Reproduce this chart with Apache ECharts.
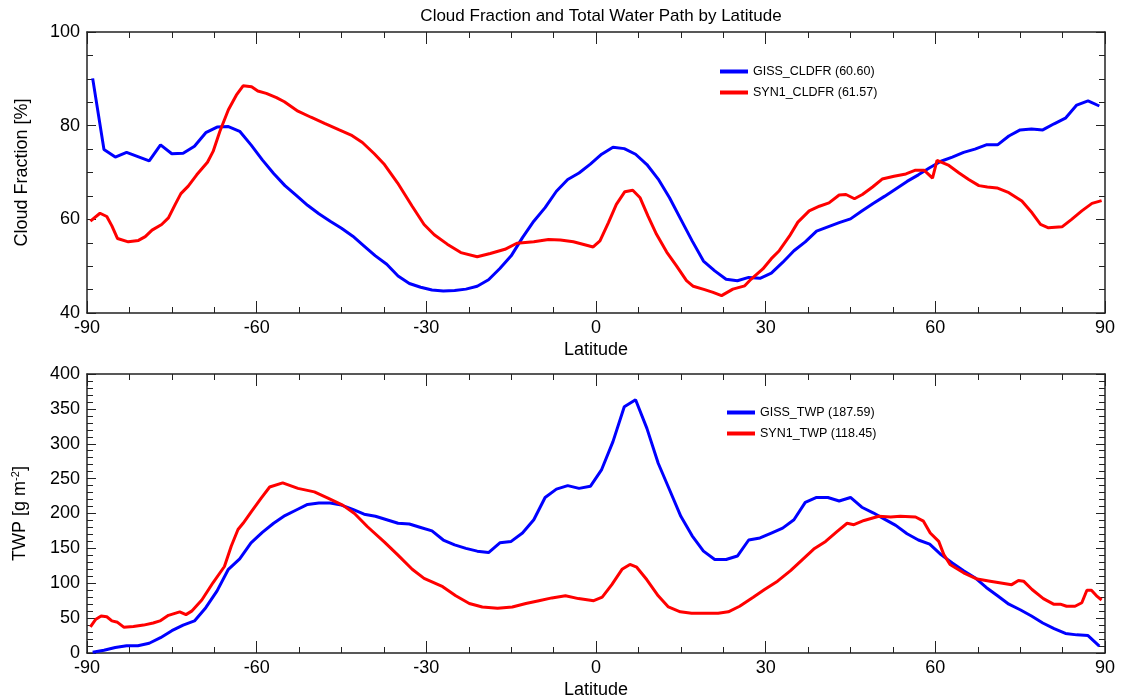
<!DOCTYPE html>
<html>
<head>
<meta charset="utf-8">
<script src="https://cdn.jsdelivr.net/npm/echarts@6/dist/echarts.min.js"></script>
<style>html,body{margin:0;padding:0;background:#fff}#c{width:1127px;height:700px}</style>
</head>
<body>
<div id="c"></div>
<script>
// ---- Data ----
const xTicks = [-90, -60, -30, 0, 30, 60, 90];

const latGrid = [-89,-87,-85,-83,-81,-79,-77,-75,-73,-71,-69,-67,-65,-63,-61,-59,-57,-55,-53,-51,
  -49,-47,-45,-43,-41,-39,-37,-35,-33,-31,-29,-27,-25,-23,-21,-19,-17,-15,-13,-11,
  -9,-7,-5,-3,-1,1,3,5,7,9,11,13,15,17,19,21,23,25,27,29,
  31,33,35,37,39,41,43,45,47,49,51,53,55,57,59,61,63,65,67,69,
  71,73,75,77,79,81,83,85,87,89];

const gissCldfr = [90.1,74.9,73.3,74.3,73.4,72.5,75.9,74.0,74.1,75.6,78.5,79.7,79.8,78.8,75.9,72.7,69.8,67.2,65.1,63.0,
  61.2,59.6,58.1,56.4,54.3,52.2,50.4,47.9,46.3,45.5,44.9,44.7,44.8,45.1,45.7,47.1,49.5,52.2,56.1,59.6,
  62.5,66.0,68.5,69.9,71.8,73.9,75.4,75.1,73.9,71.7,68.6,64.6,60.0,55.4,51.1,49.0,47.2,46.9,47.6,47.4,
  48.5,50.8,53.3,55.2,57.5,58.4,59.3,60.1,61.8,63.4,64.9,66.5,68.1,69.5,71.0,72.4,73.3,74.3,75.0,75.9,
  75.9,77.8,79.1,79.3,79.1,80.4,81.6,84.4,85.3,84.2];

const synCldfrLat = [-89.4,-87.7,-86.5,-85.6,-84.6,-82.7,-80.9,-79.7,-78.5,-76.8,-75.6,-74.4,-73.4,-72.1,-70.6,-68.7,-67.7,-66.5,-65.0,-63.6,
  -62.4,-60.9,-59.8,-58.3,-56.5,-55.1,-52.7,-50.4,-48.0,-45.4,-43.3,-41.3,-39.2,-37.4,-35.1,-32.5,-30.4,-28.6,-26.3,-23.9,
  -21.0,-18.7,-16.1,-14.0,-11.0,-8.4,-6.3,-4.0,-0.5,0.7,2.2,3.6,5.1,6.5,7.8,9.2,10.7,12.5,14.2,16.0,
  17.2,19.2,20.7,22.2,24.2,26.3,27.4,29.5,31.0,32.4,34.2,35.7,37.7,39.5,41.2,43.0,44.2,45.7,47.1,48.9,
  50.6,52.7,54.8,56.5,58.0,59.5,60.3,62.4,64.2,65.9,67.7,69.2,70.9,73.0,75.3,77.1,78.6,80.0,82.4,84.1,
  85.9,87.7,89.4];
const synCldfr = [59.6,61.3,60.6,58.6,55.9,55.2,55.5,56.3,57.7,58.9,60.3,63.2,65.5,67.1,69.5,72.2,74.5,78.8,83.4,86.5,
  88.5,88.3,87.4,86.9,86.0,85.1,83.1,81.8,80.5,79.1,78.0,76.4,74.0,71.7,67.8,62.8,58.9,56.7,54.7,52.9,
  52.0,52.7,53.6,54.9,55.2,55.7,55.6,55.2,54.1,55.4,59.3,63.2,65.9,66.2,64.6,60.7,56.8,53.0,50.1,46.9,
  45.7,45.0,44.4,43.7,45.1,45.8,47.2,49.4,51.6,53.3,56.4,59.4,61.8,62.8,63.5,65.2,65.3,64.4,65.3,66.9,
  68.6,69.2,69.7,70.5,70.5,68.8,72.6,71.5,69.9,68.5,67.2,66.9,66.7,65.7,63.9,61.4,58.9,58.2,58.4,60.0,
  61.8,63.4,64.0];

const gissTwp = [1,4,8,10.5,10.5,14,22,32,40,46,65,89,120,135,158,173,186,197,205,213,
  215,215,212,206,199,196,191,186,185,180,175,162,155,150,146,144,158,160,172,191,
  223,235,240,236,239,263,303,353,363,322,272,234,196,168,146,134,134,139,162,165,
  172,179,191,216,223,223,218,223,209,201,192,183,171,162,156,141,129,118,108,94,
  82,70,62,53,43,35,28,26,25,10];

const synTwpLat = [-89.4,-88.5,-87.5,-86.5,-85.6,-84.6,-83.5,-81.8,-80.0,-78.3,-77.1,-75.6,-73.6,-72.5,-71.5,-69.7,-67.7,-65.7,-64.5,-63.3,
  -62.4,-60.9,-59.2,-57.7,-55.4,-52.7,-49.8,-47.4,-44.8,-42.7,-40.4,-37.4,-35.1,-32.5,-30.4,-27.1,-24.8,-22.4,-20.1,-17.4,
  -14.8,-12.4,-10.1,-7.8,-5.4,-3.1,-0.4,1.1,2.8,4.6,6.0,7.2,9.0,11.0,12.8,14.9,16.9,19.3,21.6,23.4,
  25.4,27.8,29.8,32.1,34.4,36.5,38.5,40.6,42.6,44.4,45.6,47.4,50.0,52.1,53.8,56.5,57.9,59.1,60.6,61.5,
  62.6,65.0,67.4,69.7,73.5,74.7,75.6,77.1,79.1,80.9,82.1,83.2,84.7,85.9,86.8,87.6,88.5,89.4];
const synTwp = [37.5,48,53,52,46,44,37,38,40,43,46,54,59,55,60,76,101,124,153,177,
  186,203,222,238,244,236,231,222,212,200,181,159,141,120,107,95,82,71,66,64,
  66,71,75,79,82,78,75,80,98,120,127,123,105,82,66,59,57,57,57,59,
  67,80,91,103,118,134,149,160,174,186,184,190,196,195,196,195,189,172,160,141,
  127,115,106,103,98,104,103,91,78,70,70,67,67,72,90,90,82,76];

const seriesNames = ['GISS_CLDFR (60.60)', 'SYN1_CLDFR (61.57)', 'GISS_TWP (187.59)', 'SYN1_TWP (118.45)'];

// ---- Chart ----
const zip = (xs, ys) => xs.map((x, i) => [x, ys[i]]);
const FONT = "'Liberation Sans', Arial, Helvetica, sans-serif";
const AX = '#222';

function xAxes(gi) {
  const base = {
    type: 'value', gridIndex: gi, min: -90, max: 90, interval: 30,
    axisLine: { show: true, onZero: false, lineStyle: { color: AX, width: 1.5 } },
    axisTick: { show: true, inside: true, length: 12, lineStyle: { color: AX, width: 1 } },
    minorTick: { show: true, splitNumber: 4, length: 6, lineStyle: { color: AX, width: 1 } },
    splitLine: { show: false }
  };
  return [
    Object.assign({}, base, {
      position: 'bottom', name: 'Latitude', nameLocation: 'middle', nameGap: 28,
      nameTextStyle: { fontFamily: FONT, fontSize: 18, color: '#000' },
      axisLabel: { show: true, fontFamily: FONT, fontSize: 18, color: '#000', margin: 6,
        customValues: xTicks }
    }),
    Object.assign({}, base, { position: 'top', axisLabel: { show: false } })
  ];
}

function yAxes(gi, min, max, interval, minorSplit, name, rich) {
  const base = {
    type: 'value', gridIndex: gi, min: min, max: max, interval: interval,
    axisLine: { show: true, onZero: false, lineStyle: { color: AX, width: 1.5 } },
    axisTick: { show: true, inside: true, length: 9, lineStyle: { color: AX, width: 1 } },
    minorTick: { show: true, splitNumber: minorSplit, length: 6, lineStyle: { color: AX, width: 1 } },
    splitLine: { show: false }
  };
  return [
    Object.assign({}, base, {
      position: 'left', name: name, nameLocation: 'middle', nameGap: 56,
      nameTextStyle: Object.assign({ fontFamily: FONT, fontSize: 18, color: '#000' }, rich ? { rich: rich } : {}),
      axisLabel: { show: true, fontFamily: FONT, fontSize: 18, color: '#000', margin: 7 }
    }),
    Object.assign({}, base, { position: 'right', axisLabel: { show: false } })
  ];
}

const lineSeries = (name, xi, yi, data, color) => ({
  name: name, type: 'line', xAxisIndex: xi, yAxisIndex: yi, data: data,
  showSymbol: false, symbol: 'none', smooth: false, animation: false,
  lineStyle: { color: color, width: 3 }, itemStyle: { color: color }
});

const legendBase = {
  orient: 'vertical', icon: 'rect', itemWidth: 28, itemHeight: 4, itemGap: 8,
  textStyle: { fontFamily: FONT, fontSize: 12.5, color: '#000' }
};

const option = {
  backgroundColor: '#fff',
  animation: false,
  title: {
    text: 'Cloud Fraction and Total Water Path by Latitude',
    left: 596, top: 3, textAlign: 'center',
    textStyle: { fontFamily: FONT, fontSize: 17, fontWeight: 'normal', color: '#000' }
  },
  legend: [
    Object.assign({}, legendBase, { left: 715, top: 60, data: [seriesNames[0], seriesNames[1]] }),
    Object.assign({}, legendBase, { left: 722, top: 401, data: [seriesNames[2], seriesNames[3]] })
  ],
  grid: [
    { left: 87, right: 22, top: 32, height: 281 },
    { left: 87, right: 22, top: 374, height: 281 }
  ],
  xAxis: [].concat(xAxes(0), xAxes(1)),
  yAxis: [].concat(
    yAxes(0, 40, 100, 20, 4, 'Cloud Fraction [%]'),
    yAxes(1, 0, 400, 50, 5, 'TWP [g m{sup|-2}]', {
      sup: { fontFamily: FONT, fontSize: 11, color: '#000', verticalAlign: 'top', padding: [0, 0, 10, 0] }
    })
  ),
  series: [
    lineSeries(seriesNames[0], 0, 0, zip(latGrid, gissCldfr), '#0000ff'),
    lineSeries(seriesNames[1], 0, 0, zip(synCldfrLat, synCldfr), '#ff0000'),
    lineSeries(seriesNames[2], 2, 2, zip(latGrid, gissTwp), '#0000ff'),
    lineSeries(seriesNames[3], 2, 2, zip(synTwpLat, synTwp), '#ff0000')
  ]
};

const chart = echarts.init(document.getElementById('c'), null, { renderer: 'canvas' });
chart.setOption(option);
</script>
</body>
</html>
